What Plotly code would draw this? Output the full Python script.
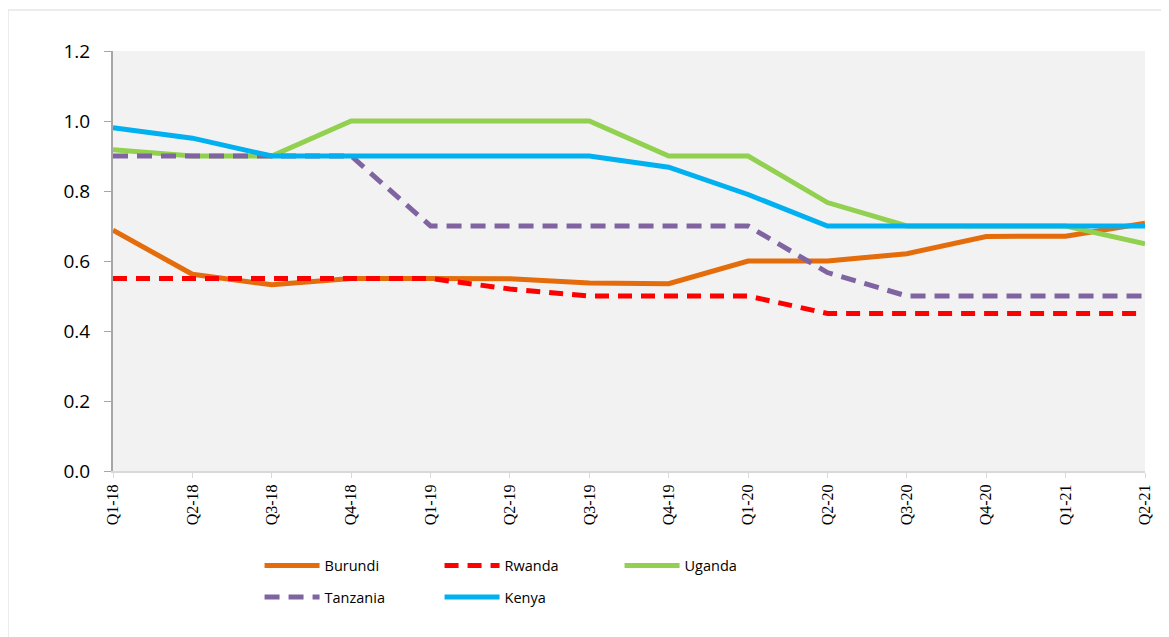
import plotly.graph_objects as go

quarters = ["Q1-18", "Q2-18", "Q3-18", "Q4-18", "Q1-19", "Q2-19", "Q3-19",
            "Q4-19", "Q1-20", "Q2-20", "Q3-20", "Q4-20", "Q1-21", "Q2-21"]
burundi = [0.688, 0.562, 0.532, 0.550, 0.550, 0.549, 0.537, 0.535, 0.600, 0.600, 0.621, 0.670, 0.671, 0.708]
rwanda = [0.55, 0.55, 0.55, 0.55, 0.55, 0.52, 0.50, 0.50, 0.50, 0.45, 0.45, 0.45, 0.45, 0.45]
uganda = [0.918, 0.90, 0.90, 1.00, 1.00, 1.00, 1.00, 0.90, 0.90, 0.767, 0.70, 0.70, 0.70, 0.649]
tanzania = [0.90, 0.90, 0.90, 0.90, 0.70, 0.70, 0.70, 0.70, 0.70, 0.567, 0.50, 0.50, 0.50, 0.50]
kenya = [0.981, 0.951, 0.90, 0.90, 0.90, 0.90, 0.90, 0.868, 0.790, 0.70, 0.70, 0.70, 0.70, 0.70]

series = [
    ("Burundi", burundi, "#E46C0A", "solid", "legend"),
    ("Rwanda", rwanda, "#FF0000", "14px,9px", "legend"),
    ("Uganda", uganda, "#92D050", "solid", "legend"),
    ("Tanzania", tanzania, "#8064A2", "15px,9px", "legend2"),
    ("Kenya", kenya, "#00B0F0", "solid", "legend2"),
]

fig = go.Figure()
for name, vals, color, dash, leg in series:
    fig.add_trace(go.Scatter(
        x=list(range(len(quarters))), y=vals, name=name, mode="lines",
        line=dict(color=color, width=5, dash=dash),
        legend=leg,
    ))

legend_common = dict(
    orientation="h", xanchor="left", yanchor="middle",
    entrywidth=110, entrywidthmode="pixels",
    font=dict(family="Open Sans, Liberation Sans, sans-serif", size=14.5, color="#000"),
    bgcolor="rgba(0,0,0,0)", itemwidth=55, tracegroupgap=0,
)

fig.update_layout(
    width=1161, height=629,
    margin=dict(l=105, r=24, t=43, b=166),
    paper_bgcolor="white",
    plot_bgcolor="#F2F2F2",
    showlegend=True,
    legend=dict(x=0.142, y=-0.225, **legend_common),
    legend2=dict(x=0.142, y=-0.30, **legend_common),
    xaxis=dict(
        tickmode="array", tickvals=list(range(len(quarters))), ticktext=quarters,
        range=[0, len(quarters) - 1], tickangle=-90,
        showgrid=False, zeroline=False,
        showline=True, linecolor="#D9D9D9", linewidth=2,
        ticks="outside", ticklen=5, tickcolor="#D9D9D9",
        tickfont=dict(family="Liberation Serif, Times New Roman, serif", size=16, color="#000"),
    ),
    yaxis=dict(
        range=[0, 1.2], tickvals=[0, 0.2, 0.4, 0.6, 0.8, 1.0, 1.2],
        tickformat=".1f", showgrid=False, zeroline=False,
        showline=True, linecolor="#A6A6A6", linewidth=2,
        ticks="outside", ticklen=7, tickcolor="#A6A6A6",
        ticklabelstandoff=10,
        tickfont=dict(family="Open Sans, Liberation Sans, sans-serif", size=19, color="#000"),
    ),
    shapes=[dict(
        type="rect", xref="paper", yref="paper",
        x0=(0 - 105) / 1032, x1=(1180 - 105) / 1032,
        y0=(463 - 650) / 420, y1=(463 - 2) / 420,
        line=dict(color="#E6E6E6", width=1.5), fillcolor="rgba(0,0,0,0)", layer="below",
    )],
)

fig.write_html("out.html")
